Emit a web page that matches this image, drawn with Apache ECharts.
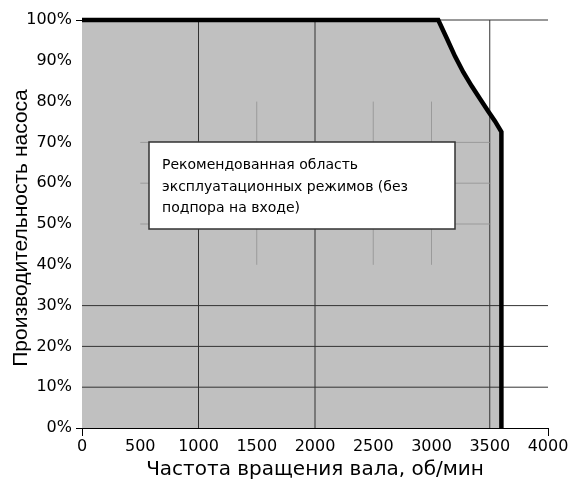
<!DOCTYPE html>
<html>
<head>
<meta charset="utf-8">
<script src="https://cdn.jsdelivr.net/npm/echarts@6/dist/echarts.min.js"></script>
<style>html,body{margin:0;padding:0;background:#fff}#c{width:571px;height:486px}</style>
</head>
<body>
<div id="c"></div>
<script>
// Boundary of the recommended operating region
const rpm      = [0,   3058, 3130, 3202, 3273, 3345, 3416, 3488, 3545, 3600, 3600];
const capacity = [100, 100,  95.6, 91.1, 87.2, 83.8, 80.7, 77.6, 75.2, 72.6, 0];

// Tick labels
const xTicks = [0, 500, 1000, 1500, 2000, 2500, 3000, 3500, 4000];
const yTicks = [0, 10, 20, 30, 40, 50, 60, 70, 80, 90, 100];

// Grid lines
const darkVLines = [1000, 2000, 3500];
const darkHLines = [10, 20, 30, 100];
const lightVLines = [1500, 2500, 3000];
const lightVRange = [40, 80];
const lightHLines = [50, 60, 70];
const lightHRange = [500, 3500];

const noteLines = ['Рекомендованная область', 'эксплуатационных режимов (без', 'подпора на входе)'];

const xTitle = 'Частота вращения вала, об/мин';
const yTitle = 'Производительность насоса';

const boundary = rpm.map((x, i) => [x, capacity[i]]);

const series = [];
series.push({
  type: 'line', data: boundary, symbol: 'none', z: 1, clip: false,
  lineStyle: { width: 0, opacity: 0 },
  areaStyle: { color: '#c0c0c0', opacity: 1 }, silent: true
});
function gridSeries(data, color) {
  series.push({
    type: 'line', data: data, symbol: 'none', z: 2, clip: false, silent: true,
    lineStyle: { color: color, width: 1 }
  });
}
darkVLines.forEach(v => gridSeries([[v, 0], [v, 100]], '#333'));
darkHLines.forEach(h => gridSeries([[0, h], [4000, h]], '#333'));
lightVLines.forEach(v => gridSeries([[v, lightVRange[0]], [v, lightVRange[1]]], '#9a9a9a'));
lightHLines.forEach(h => gridSeries([[lightHRange[0], h], [lightHRange[1], h]], '#9a9a9a'));
series.push({
  type: 'line', data: boundary, symbol: 'none', z: 3, clip: false, silent: true,
  lineStyle: { color: '#000', width: 4.5, join: 'miter' }
});

const chart = echarts.init(document.getElementById('c'), null, { renderer: 'canvas' });
chart.setOption({
  animation: false,
  grid: { left: 82, right: 23, top: 20, height: 408, outerBoundsMode: 'none', containLabel: false },
  xAxis: {
    type: 'value', min: 0, max: 4000, interval: 500,
    name: xTitle, nameLocation: 'middle', nameGap: 32, nameMoveOverlap: false,
    nameTextStyle: { fontFamily: 'DejaVu Sans', fontSize: 20, color: '#000' },
    axisLine: { lineStyle: { color: '#000', width: 1 } },
    axisTick: { show: true, customValues: [0, 4000], length: 8, lineStyle: { color: '#000' } },
    axisLabel: { customValues: xTicks, formatter: v => String(v), fontFamily: 'DejaVu Sans', fontSize: 16, color: '#000', margin: 11 },
    splitLine: { show: false }
  },
  yAxis: {
    type: 'value', min: 0, max: 100, interval: 10,
    name: yTitle, nameLocation: 'middle', nameGap: 50, nameRotate: 90, nameMoveOverlap: false,
    nameTextStyle: { fontFamily: 'Liberation Sans', fontSize: 21, color: '#000', padding: [0, 8, 0, 0] },
    axisLine: { show: true, lineStyle: { color: '#000', width: 1 } },
    axisTick: { show: true, customValues: [0, 100], length: 6, lineStyle: { color: '#000' } },
    axisLabel: { customValues: yTicks, formatter: '{value}%', fontFamily: 'DejaVu Sans', fontSize: 16, color: '#000', margin: 10 },
    splitLine: { show: false }
  },
  graphic: [
    { type: 'rect', z: 100, shape: { x: 149, y: 142, width: 306, height: 87 },
      style: { fill: '#fff', stroke: '#333', lineWidth: 1.5 } },
    { type: 'text', z: 101, left: 162, top: 155,
      style: { text: noteLines.join('\n'), font: '14px "DejaVu Sans"', fill: '#000', lineHeight: 21.5 } }
  ],
  series: series
});
</script>
</body>
</html>
